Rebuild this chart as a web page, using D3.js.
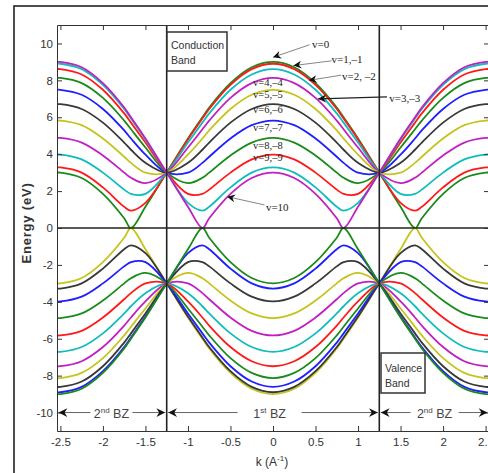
<!DOCTYPE html>
<html>
<head>
<meta charset="utf-8">
<script src="https://cdn.jsdelivr.net/npm/d3@7"></script>
<style>
  body { margin: 0; background: #fff; }
  svg text { font-family: "Liberation Sans", Arial, sans-serif; }
</style>
</head>
<body>
<div id="chart"></div>
<script>
// k samples (1/A) for the right half; the left half mirrors it
const kHalf = [0, 0.25, 0.5, 0.75, 0.83, 1.0, 1.25, 1.5, 1.67, 1.75, 2.0, 2.25, 2.5, 2.55];

// conduction sub-bands (eV), top to bottom at k = 0
const cb0  = [9.00, 8.71, 7.85, 6.53, 6.00, 4.85, 3.00, 1.15, 0.00, 0.53, 1.85, 2.71, 3.00, 3.00];
const cb1  = [8.90, 8.61, 7.76, 6.45, 5.93, 4.80, 3.00, 1.36, 0.94, 1.15, 2.20, 3.00, 3.28, 3.28];
const cb2  = [8.61, 8.32, 7.49, 6.21, 5.71, 4.63, 3.00, 1.85, 1.85, 2.08, 3.00, 3.72, 3.98, 3.98];
const cb3  = [8.13, 7.85, 7.05, 5.82, 5.35, 4.36, 3.00, 2.43, 2.72, 3.00, 3.93, 4.63, 4.88, 4.88];
const cb4  = [7.49, 7.22, 6.45, 5.29, 4.85, 3.98, 3.00, 3.00, 3.53, 3.86, 4.85, 5.57, 5.82, 5.82];
const cb5  = [6.71, 6.45, 5.71, 4.63, 4.24, 3.53, 3.00, 3.53, 4.24, 4.63, 5.71, 6.45, 6.71, 6.71];
const cb6  = [5.82, 5.57, 4.85, 3.86, 3.53, 3.00, 3.00, 3.98, 4.85, 5.29, 6.45, 7.22, 7.49, 7.49];
const cb7  = [4.88, 4.63, 3.93, 3.00, 2.72, 2.43, 3.00, 4.36, 5.35, 5.82, 7.05, 7.85, 8.13, 8.13];
const cb8  = [3.98, 3.72, 3.00, 2.08, 1.85, 1.85, 3.00, 4.63, 5.71, 6.21, 7.49, 8.32, 8.61, 8.61];
const cb9  = [3.28, 3.00, 2.20, 1.15, 0.94, 1.36, 3.00, 4.80, 5.93, 6.45, 7.76, 8.61, 8.90, 8.90];
const cb10 = [3.00, 2.71, 1.85, 0.53, 0.00, 1.15, 3.00, 4.85, 6.00, 6.53, 7.85, 8.71, 9.00, 9.00];

// valence sub-bands (eV), bottom to top at k = 0
const vb0  = [-9.00, -8.71, -7.85, -6.53, -6.00, -4.85, -3.00, -1.15, 0.00, -0.53, -1.85, -2.71, -3.00, -3.00];
const vb1  = [-8.90, -8.61, -7.76, -6.45, -5.93, -4.80, -3.00, -1.36, -0.94, -1.15, -2.20, -3.00, -3.28, -3.28];
const vb2  = [-8.61, -8.32, -7.49, -6.21, -5.71, -4.63, -3.00, -1.85, -1.85, -2.08, -3.00, -3.72, -3.98, -3.98];
const vb3  = [-8.13, -7.85, -7.05, -5.82, -5.35, -4.36, -3.00, -2.43, -2.72, -3.00, -3.93, -4.63, -4.88, -4.88];
const vb4  = [-7.49, -7.22, -6.45, -5.29, -4.85, -3.98, -3.00, -3.00, -3.53, -3.86, -4.85, -5.57, -5.82, -5.82];
const vb5  = [-6.71, -6.45, -5.71, -4.63, -4.24, -3.53, -3.00, -3.53, -4.24, -4.63, -5.71, -6.45, -6.71, -6.71];
const vb6  = [-5.82, -5.57, -4.85, -3.86, -3.53, -3.00, -3.00, -3.98, -4.85, -5.29, -6.45, -7.22, -7.49, -7.49];
const vb7  = [-4.88, -4.63, -3.93, -3.00, -2.72, -2.43, -3.00, -4.36, -5.35, -5.82, -7.05, -7.85, -8.13, -8.13];
const vb8  = [-3.98, -3.72, -3.00, -2.08, -1.85, -1.85, -3.00, -4.63, -5.71, -6.21, -7.49, -8.32, -8.61, -8.61];
const vb9  = [-3.28, -3.00, -2.20, -1.15, -0.94, -1.36, -3.00, -4.80, -5.93, -6.45, -7.76, -8.61, -8.90, -8.90];
const vb10 = [-3.00, -2.71, -1.85, -0.53, 0.00, -1.15, -3.00, -4.85, -6.00, -6.53, -7.85, -8.71, -9.00, -9.00];

const conduction = [cb0, cb1, cb2, cb3, cb4, cb5, cb6, cb7, cb8, cb9, cb10];
const valence = [vb0, vb1, vb2, vb3, vb4, vb5, vb6, vb7, vb8, vb9, vb10];

const xTicks = [-2.5, -2, -1.5, -1, -0.5, 0, 0.5, 1, 1.5, 2, 2.5];
const yTicks = [-10, -8, -6, -4, -2, 0, 2, 4, 6, 8, 10];
const zoneEdges = [-1.25, 1.25];

const bandLabels = ["v=0", "v=1,\u20131", "v=2, \u20132", "v=3,\u20133", "v=4,\u20134", "v=5,\u20135",
    "v=6,\u20136", "v=7,\u20137", "v=8,\u20138", "v=9,\u20139", "v=10"];

// matlab line colours
const mat = { b: "#1e1eff", g: "#1a8a1a", r: "#ff1a1a", c: "#10bcbc", m: "#c020c0", y: "#c4c41c", k: "#383838" };
const cbColors = ["g", "r", "c", "m", "y", "k", "b", "g", "r", "c", "m"].map(c => mat[c]);
const vbColors = ["y", "k", "b", "g", "r", "c", "m", "y", "k", "b", "g"].map(c => mat[c]);

const width = 488, height = 473;
const plot = { left: 57, right: 489, top: 25, bottom: 431 };

const svg = d3.select("#chart").append("svg")
    .attr("width", width)
    .attr("height", height);

// outer figure frame
svg.append("rect")
    .attr("x", 14).attr("y", 6)
    .attr("width", 500).attr("height", 500)
    .attr("fill", "none")
    .attr("stroke", "#222")
    .attr("stroke-width", 1.6);

const x = d3.scaleLinear().domain([-2.54, 2.54]).range([plot.left, plot.right]);
const y = d3.scaleLinear().domain([-11, 11]).range([plot.bottom, plot.top]);

svg.append("clipPath").attr("id", "clip")
    .append("rect")
    .attr("x", plot.left).attr("y", plot.top)
    .attr("width", plot.right - plot.left).attr("height", plot.bottom - plot.top);

const toPoints = vals => {
    const right = kHalf.map((k, i) => [k, vals[i]]);
    const left = kHalf.slice(1).map((k, i) => [-k, vals[i + 1]]).reverse();
    return left.concat(right);
};

const line = d3.line()
    .x(d => x(d[0]))
    .y(d => y(d[1]))
    .curve(d3.curveCatmullRom);

const curves = svg.append("g").attr("clip-path", "url(#clip)");

conduction.forEach((vals, i) => {
    curves.append("path")
        .attr("d", line(toPoints(vals)))
        .attr("fill", "none")
        .attr("stroke", cbColors[i])
        .attr("stroke-width", 1.8);
});
valence.forEach((vals, i) => {
    curves.append("path")
        .attr("d", line(toPoints(vals)))
        .attr("fill", "none")
        .attr("stroke", vbColors[i])
        .attr("stroke-width", 1.8);
});

// E = 0 line and zone boundaries
svg.append("line")
    .attr("x1", plot.left).attr("x2", plot.right)
    .attr("y1", y(0)).attr("y2", y(0))
    .attr("stroke", "#222").attr("stroke-width", 1.6);

svg.selectAll("line.zone")
    .data(zoneEdges)
    .join("line")
    .attr("class", "zone")
    .attr("x1", d => x(d)).attr("x2", d => x(d))
    .attr("y1", plot.top).attr("y2", plot.bottom)
    .attr("stroke", "#222").attr("stroke-width", 1.6);

// axes, ticks pointing inward on all four sides
const styleAxis = g => {
    g.select(".domain").attr("stroke", "#333");
    g.selectAll(".tick line").attr("stroke", "#333");
    g.selectAll(".tick text")
        .attr("fill", "#333")
        .style("font-size", "11.5px");
};

svg.append("g")
    .attr("transform", `translate(0, ${plot.bottom})`)
    .call(d3.axisBottom(x).tickValues(xTicks).tickSize(-5).tickSizeOuter(0).tickPadding(7).tickFormat(d => String(d)))
    .call(styleAxis);

svg.append("g")
    .attr("transform", `translate(0, ${plot.top})`)
    .call(d3.axisTop(x).tickValues(xTicks).tickSize(-5).tickSizeOuter(0).tickFormat(""))
    .call(styleAxis);

svg.append("g")
    .attr("transform", `translate(${plot.left}, 0)`)
    .call(d3.axisLeft(y).tickValues(yTicks).tickSize(-5).tickSizeOuter(0).tickPadding(4).tickFormat(d => String(d)))
    .call(styleAxis);

svg.append("g")
    .attr("transform", `translate(${plot.right}, 0)`)
    .call(d3.axisRight(y).tickValues(yTicks).tickSize(-5).tickSizeOuter(0).tickFormat(""))
    .call(styleAxis);

// axis titles
svg.append("text")
    .attr("transform", "translate(31, 223) rotate(-90)")
    .attr("text-anchor", "middle")
    .style("font-size", "13px")
    .style("font-weight", "bold")
    .style("letter-spacing", "0.8px")
    .attr("fill", "#333")
    .text("Energy (eV)");

const xTitle = svg.append("text")
    .attr("x", 272).attr("y", 466)
    .attr("text-anchor", "middle")
    .style("font-size", "12px")
    .attr("fill", "#333");
xTitle.append("tspan").text("k (A");
xTitle.append("tspan").attr("dy", -5).style("font-size", "8px").text("-1");
xTitle.append("tspan").attr("dy", 5).text(")");

// filled, notched arrow head like matlab annotations
function arrowHead(tip, from, size = 1) {
    const ang = Math.atan2(tip[1] - from[1], tip[0] - from[0]);
    const L = 8 * size, w = 4 * size, n = 5.5 * size;
    const pts = [[0, 0], [-L, -w], [-n, 0], [-L, w]].map(([px, py]) => [
        tip[0] + px * Math.cos(ang) - py * Math.sin(ang),
        tip[1] + px * Math.sin(ang) + py * Math.cos(ang)
    ]);
    svg.append("path")
        .attr("d", "M" + pts.join("L") + "Z")
        .attr("fill", "#111");
}

// Brillouin zone arrows along E = -10
const zones = [
    { from: -2.54, to: -1.25, at: -1.9, gap: 21, num: "2", sup: "nd" },
    { from: -1.25, to: 1.25, at: -0.04, gap: 32, num: "1", sup: "st" },
    { from: 1.25, to: 2.54, at: 1.9, gap: 24, num: "2", sup: "nd" }
];
const yz = y(-10);
zones.forEach(z => {
    const x0 = x(z.from) + 1.5, x1 = x(z.to) - 1.5, xc = x(z.at);
    [[x0, xc - z.gap], [xc + z.gap, x1]].forEach(([a, b]) => {
        svg.append("line")
            .attr("x1", a).attr("x2", b)
            .attr("y1", yz).attr("y2", yz)
            .attr("stroke", "#666").attr("stroke-width", 1);
    });
    arrowHead([x0, yz], [x0 + 10, yz], 1.1);
    arrowHead([x1, yz], [x1 - 10, yz], 1.1);
    const t = svg.append("text")
        .attr("x", xc).attr("y", yz + 5)
        .attr("text-anchor", "middle")
        .style("font-size", "12.5px")
        .attr("fill", "#444");
    t.append("tspan").text(z.num);
    t.append("tspan").attr("dy", -5).style("font-size", "8px").text(z.sup);
    t.append("tspan").attr("dy", 5).text(" BZ");
});

// band boxes
const boxes = [
    { x: 167, y: 32, w: 60, h: 39, lines: ["Conduction", "Band"], tx: 171, ty: 49 },
    { x: 381, y: 353, w: 44, h: 40, lines: ["Valence", "Band"], tx: 385, ty: 372 }
];
boxes.forEach(b => {
    svg.append("rect")
        .attr("x", b.x).attr("y", b.y)
        .attr("width", b.w).attr("height", b.h)
        .attr("fill", "#fff")
        .attr("stroke", "#333").attr("stroke-width", 1.5);
    b.lines.forEach((s, i) => {
        svg.append("text")
            .attr("x", b.tx).attr("y", b.ty + i * 14.5)
            .style("font-size", "10.5px")
            .attr("fill", "#333")
            .text(s);
    });
});

// sub-band labels: [label index, text k, text E, tail k, tail E, tip k, tip E]
const pointed = [
    [0, 0.56, 9.97, 0.43, 9.93, 0.0, 9.25],
    [1, 0.87, 9.16, 0.69, 9.06, 0.24, 8.80],
    [2, 1.01, 8.24, 0.80, 8.28, 0.42, 8.00],
    [3, 1.55, 7.05, 1.34, 7.10, 0.53, 7.00],
    [10, 0.05, 1.14, -0.10, 1.25, -0.54, 1.70]
];
pointed.forEach(([i, tk, te, ak, ae, hk, he]) => {
    svg.append("line")
        .attr("x1", x(ak)).attr("y1", y(ae))
        .attr("x2", x(hk)).attr("y2", y(he))
        .attr("stroke", i === 3 ? "#222" : "#777")
        .attr("stroke-width", i === 3 ? 1.2 : 0.9);
    arrowHead([x(hk), y(he)], [x(ak), y(ae)]);
    svg.append("text")
        .attr("x", x(tk)).attr("y", y(te))
        .attr("dy", "0.35em")
        .attr("text-anchor", "middle")
        .style("font-family", "'Liberation Serif', 'Times New Roman', serif")
        .style("font-size", "11px")
        .attr("fill", "#222")
        .text(bandLabels[i]);
});

const inline = [[4, 7.88], [5, 7.25], [6, 6.45], [7, 5.47], [8, 4.50], [9, 3.85]];
inline.forEach(([i, e]) => {
    svg.append("text")
        .attr("x", x(-0.06)).attr("y", y(e))
        .attr("dy", "0.35em")
        .attr("text-anchor", "middle")
        .style("font-family", "'Liberation Serif', 'Times New Roman', serif")
        .style("font-size", "10.5px")
        .attr("fill", "#222")
        .text(bandLabels[i]);
});
</script>
</body>
</html>
